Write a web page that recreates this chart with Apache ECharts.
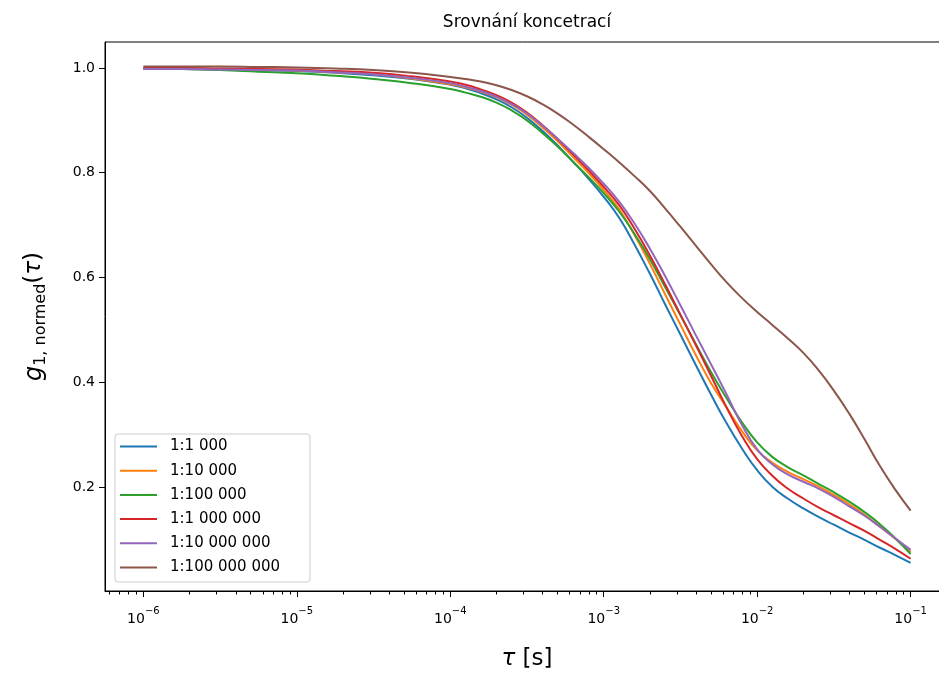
<!DOCTYPE html>
<html>
<head>
<meta charset="utf-8">
<script src="https://cdn.jsdelivr.net/npm/echarts@6/dist/echarts.min.js"></script>
<style>
html,body{margin:0;padding:0;background:#ffffff;overflow:hidden;}
#chart{width:939px;height:677px;}
</style>
</head>
<body>
<div id="chart"></div>
<script>
// lag times tau [s]
const tau = [
  1e-6, 1.78e-6, 3.16e-6, 5.62e-6, 1e-5, 1.78e-5, 3.16e-5, 5.62e-5,
  1e-4, 1.26e-4, 1.58e-4, 2.00e-4, 2.51e-4, 3.16e-4, 3.98e-4, 5.01e-4, 6.31e-4, 7.94e-4,
  1e-3, 1.26e-3, 1.58e-3, 2.00e-3, 2.51e-3, 3.16e-3, 3.98e-3, 5.01e-3, 6.31e-3, 7.94e-3,
  1e-2, 1.26e-2, 1.58e-2, 2.00e-2, 2.51e-2, 3.16e-2, 3.98e-2, 5.01e-2, 6.31e-2, 7.94e-2,
  1e-1
];

const seriesNames = ['1:1 000', '1:10 000', '1:100 000', '1:1 000 000', '1:10 000 000', '1:100 000 000'];

const g_1k = [0.998,0.998,0.997,0.996,0.994,0.991,0.986,0.979,
  0.968,0.961,0.952,0.940,0.925,0.905,0.880,0.852,0.821,0.789,
  0.754,0.714,0.664,0.607,0.549,0.491,0.433,0.376,0.322,0.274,
  0.232,0.200,0.178,0.159,0.143,0.128,0.113,0.099,0.084,0.070,
  0.055];
const g_10k = [0.999,0.999,0.998,0.997,0.995,0.992,0.988,0.980,
  0.969,0.963,0.955,0.944,0.930,0.911,0.887,0.860,0.830,0.800,
  0.767,0.730,0.682,0.626,0.568,0.510,0.452,0.398,0.352,0.307,
  0.270,0.246,0.229,0.215,0.201,0.185,0.167,0.147,0.124,0.101,
  0.076];
const g_100k = [0.999,0.998,0.996,0.993,0.990,0.985,0.979,0.971,
  0.960,0.953,0.945,0.934,0.919,0.900,0.876,0.850,0.821,0.792,
  0.761,0.726,0.684,0.635,0.582,0.528,0.473,0.419,0.370,0.324,
  0.285,0.257,0.238,0.222,0.206,0.190,0.172,0.152,0.129,0.102,
  0.072];
const g_1M = [1.000,1.000,0.999,0.998,0.997,0.994,0.991,0.984,
  0.974,0.968,0.959,0.948,0.934,0.915,0.891,0.864,0.835,0.805,
  0.773,0.738,0.694,0.642,0.587,0.529,0.471,0.412,0.352,0.298,
  0.253,0.221,0.197,0.178,0.161,0.146,0.131,0.116,0.099,0.082,
  0.063];
const g_10M = [0.998,0.998,0.997,0.996,0.995,0.992,0.988,0.981,
  0.971,0.964,0.956,0.945,0.931,0.913,0.890,0.865,0.838,0.810,
  0.779,0.745,0.704,0.655,0.603,0.547,0.490,0.434,0.377,0.319,
  0.272,0.243,0.224,0.210,0.197,0.181,0.163,0.145,0.124,0.102,
  0.080];
const g_100M = [1.003,1.003,1.003,1.002,1.001,0.999,0.996,0.991,
  0.983,0.979,0.974,0.967,0.958,0.946,0.931,0.913,0.892,0.869,
  0.845,0.820,0.794,0.765,0.732,0.697,0.661,0.625,0.591,0.561,
  0.534,0.509,0.484,0.456,0.423,0.384,0.340,0.291,0.240,0.195,
  0.155];

const xMajorTicks = [1e-6, 1e-5, 1e-4, 1e-3, 1e-2, 1e-1];
const xMinorTicks = [
  6e-7, 7e-7, 8e-7, 9e-7,
  2e-6, 3e-6, 4e-6, 5e-6, 6e-6, 7e-6, 8e-6, 9e-6,
  2e-5, 3e-5, 4e-5, 5e-5, 6e-5, 7e-5, 8e-5, 9e-5,
  2e-4, 3e-4, 4e-4, 5e-4, 6e-4, 7e-4, 8e-4, 9e-4,
  2e-3, 3e-3, 4e-3, 5e-3, 6e-3, 7e-3, 8e-3, 9e-3,
  2e-2, 3e-2, 4e-2, 5e-2, 6e-2, 7e-2, 8e-2, 9e-2
];
const yTicks = [0.2, 0.4, 0.6, 0.8, 1.0];

const colors = ['#1f77b4', '#ff7f0e', '#2ca02c', '#d62728', '#9467bd', '#8c564b'];
const seriesValues = [g_1k, g_10k, g_100k, g_1M, g_10M, g_100M];

const FONT = 'DejaVu Sans';
const X_MIN = 5.6234e-7, X_MAX = 0.17783;
const Y_MIN = 0.0014, Y_MAX = 1.0496;

const chart = echarts.init(document.getElementById('chart'), null, {renderer: 'canvas'});

const option = {
  animation: false,
  backgroundColor: '#ffffff',
  color: colors,
  title: {
    text: 'Srovnání koncetrací',
    left: 522,
    top: 9,
    textAlign: 'center',
    textStyle: {fontFamily: FONT, fontSize: 17, fontWeight: 'normal', color: '#000'}
  },
  grid: {
    left: 105, top: 42, width: 844, height: 549,
    outerBoundsMode: 'none',
    containLabel: false,
    show: true, borderColor: '#000', borderWidth: 1, backgroundColor: 'transparent'
  },
  legend: {
    orient: 'vertical',
    left: 115,
    top: 434,
    data: seriesNames,
    icon: 'rect',
    itemWidth: 37,
    itemHeight: 2,
    itemGap: 9.2,
    padding: [5, 30, 7, 5],
    backgroundColor: 'rgba(255,255,255,0.8)',
    borderColor: '#cccccc',
    borderWidth: 1,
    borderRadius: 3,
    textStyle: {fontFamily: FONT, fontSize: 15, color: '#000', lineHeight: 15, padding: [0, 0, 0, 8]}
  },
  xAxis: [
    {
      type: 'log', logBase: 10, min: X_MIN, max: X_MAX, gridIndex: 0,
      name: '{t|τ} [s]',
      nameLocation: 'middle',
      nameGap: 54,
      nameTextStyle: {fontFamily: FONT, fontSize: 23, color: '#000', lineHeight: 28,
        rich: {t: {fontFamily: FONT, fontSize: 23, fontStyle: 'italic', color: '#000', lineHeight: 28}}},
      axisLine: {show: true, lineStyle: {color: '#000', width: 1}},
      axisTick: {show: true, customValues: xMajorTicks, length: 6, lineStyle: {color: '#000', width: 1}},
      axisLabel: {
        show: true, customValues: xMajorTicks, margin: 15,
        formatter: function (v) {
          const e = Math.round(Math.log10(v));
          return '{b|10}{s|' + (e < 0 ? '\u2212' : '') + Math.abs(e) + '}';
        },
        rich: {
          b: {fontFamily: FONT, fontSize: 14, color: '#000', lineHeight: 20, verticalAlign: 'bottom'},
          s: {fontFamily: FONT, fontSize: 10, color: '#000', lineHeight: 8, verticalAlign: 'top'}
        }
      },
      splitLine: {show: false},
      minorTick: {show: false}
    },
    {
      type: 'log', logBase: 10, min: X_MIN, max: X_MAX, gridIndex: 0, position: 'bottom',
      axisLine: {show: false},
      axisTick: {show: true, customValues: xMinorTicks, length: 3.5, lineStyle: {color: '#000', width: 1}},
      axisLabel: {show: false},
      splitLine: {show: false}
    }
  ],
  yAxis: {
    type: 'value', min: Y_MIN, max: Y_MAX,
    name: '{g|g}{sub|1, normed}{p|(}{t|τ}{p|)}',
    nameLocation: 'middle',
    nameGap: 56,
    nameRotate: 90,
    nameTextStyle: {
      fontFamily: FONT, fontSize: 22, color: '#000',
      rich: {
        g: {fontFamily: FONT, fontSize: 24, fontStyle: 'italic', color: '#000', lineHeight: 26, verticalAlign: 'top'},
        sub: {fontFamily: FONT, fontSize: 16, color: '#000', lineHeight: 13, verticalAlign: 'bottom'},
        p: {fontFamily: FONT, fontSize: 23, color: '#000', lineHeight: 26, verticalAlign: 'top'},
        t: {fontFamily: FONT, fontSize: 23, fontStyle: 'italic', color: '#000', lineHeight: 26, verticalAlign: 'top'}
      }
    },
    axisLine: {show: true, lineStyle: {color: '#000', width: 1}},
    axisTick: {show: true, customValues: yTicks, length: 6, lineStyle: {color: '#000', width: 1}},
    axisLabel: {
      show: true, customValues: yTicks, margin: 10,
      formatter: function (v) { return Number(v).toFixed(1); },
      fontFamily: FONT, fontSize: 14, color: '#000'
    },
    splitLine: {show: false}
  },
  series: seriesNames.map(function (name, i) {
    return {
      name: name,
      type: 'line',
      xAxisIndex: 0,
      yAxisIndex: 0,
      symbol: 'none',
      showSymbol: false,
      smooth: 0.5,
      clip: true,
      lineStyle: {width: 2, color: colors[i]},
      itemStyle: {color: colors[i]},
      data: tau.map(function (t, k) { return [t, seriesValues[i][k]]; })
    };
  })
};

chart.setOption(option);
</script>
</body>
</html>
